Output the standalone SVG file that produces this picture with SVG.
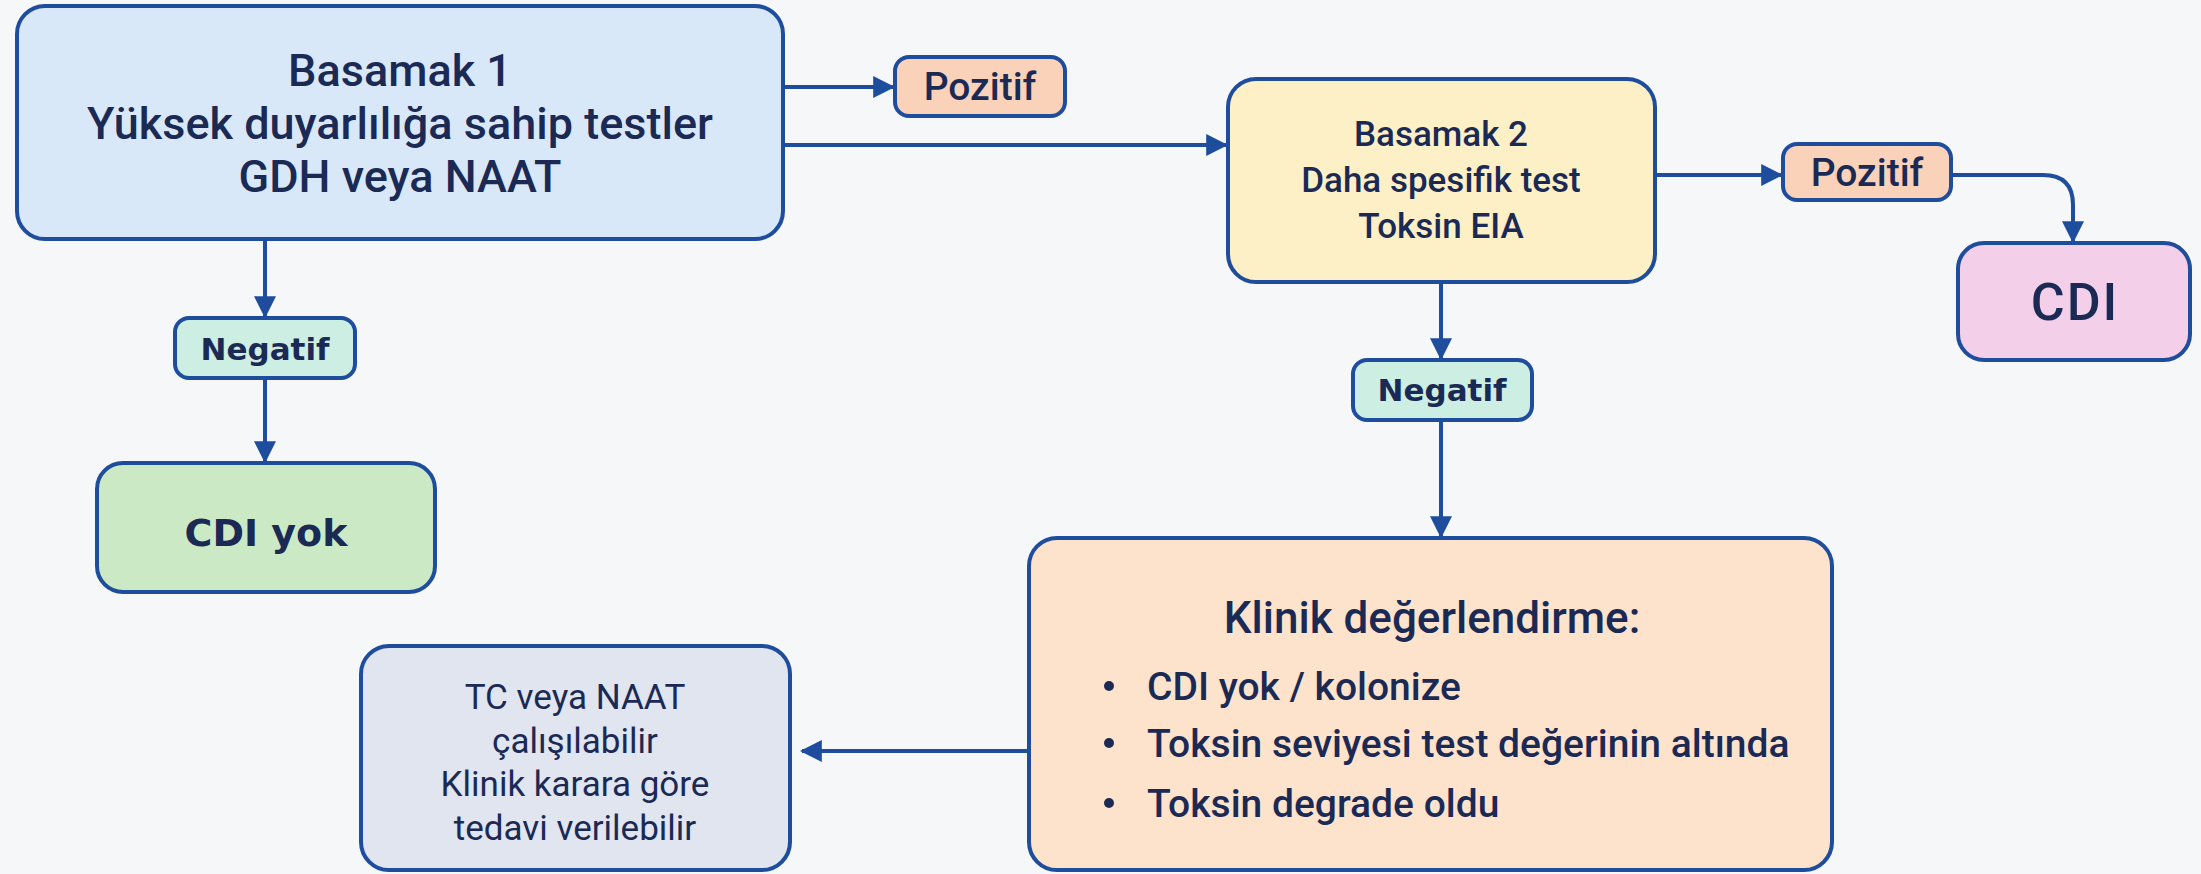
<svg xmlns="http://www.w3.org/2000/svg" width="2201" height="874" viewBox="0 0 2201 874">
<defs>
<marker id="ah" viewBox="0 0 10 10" refX="9" refY="5" markerWidth="5.5" markerHeight="5.5" markerUnits="strokeWidth" orient="auto">
<path d="M0,0 L10,5 L0,10 z" fill="#1f4d9e"/>
</marker>
<style>
.box{stroke:#1f4d9e;stroke-width:4}
.c{stroke:#1f4d9e;stroke-width:4;fill:none;marker-end:url(#ah)}
.t{font-family:Roboto,"Liberation Sans",sans-serif;font-weight:500;fill:#1b2a55;text-anchor:middle}
.r{font-weight:400}
.d{font-family:"DejaVu Sans",sans-serif;fill:#1b2a55;text-anchor:middle}
.b{font-weight:bold}
</style>
</defs>
<rect width="2201" height="874" fill="#f6f7f9"/>
<g id="connectors">
<path class="c" d="M783,87 H893"/>
<path class="c" d="M783,145 H1226"/>
<path class="c" d="M1655,175 H1781"/>
<path class="c" d="M1951,175 H2043 Q2073,175 2073,205 V241"/>
<path class="c" d="M265,239 V316"/>
<path class="c" d="M265,378 V461"/>
<path class="c" d="M1441,282 V358"/>
<path class="c" d="M1441,420 V536"/>
<path class="c" d="M1029,751 H802"/>
</g>
<g id="basamak1">
<rect class="box" x="17" y="6" width="766" height="233" rx="28" fill="#d9e8f8"/>
<text class="t" font-size="45" x="400" y="86">Basamak 1</text>
<text class="t" font-size="45" x="400" y="139">Yüksek duyarlılığa sahip testler</text>
<text class="t" font-size="45" x="400" y="192">GDH veya NAAT</text>
</g>
<g id="pozitif1">
<rect class="box" x="895" y="57" width="170" height="59" rx="14" fill="#f9d2b9"/>
<text class="t" font-size="39" x="980" y="100">Pozitif</text>
</g>
<g id="basamak2">
<rect class="box" x="1228" y="79" width="427" height="203" rx="28" fill="#fdefc6"/>
<text class="t" font-size="35" x="1441" y="146">Basamak 2</text>
<text class="t" font-size="35" x="1441" y="192">Daha spesifik test</text>
<text class="t" font-size="35" x="1441" y="238">Toksin EIA</text>
</g>
<g id="pozitif2">
<rect class="box" x="1783" y="144" width="168" height="56" rx="14" fill="#f9d2b9"/>
<text class="t" font-size="39" x="1867" y="186">Pozitif</text>
</g>
<g id="cdi">
<rect class="box" x="1958" y="243" width="232" height="117" rx="26" fill="#f4cfe9"/>
<text class="t" font-size="52" x="2075" y="320" letter-spacing="2">CDI</text>
</g>
<g id="negatif1">
<rect class="box" x="175" y="318" width="180" height="60" rx="14" fill="#cdeee3"/>
<text class="d b" font-size="31" x="265" y="360">Negatif</text>
</g>
<g id="cdiyok">
<rect class="box" x="97" y="463" width="338" height="129" rx="26" fill="#cce9c5"/>
<text class="d b" font-size="38" x="266" y="546">CDI yok</text>
</g>
<g id="negatif2">
<rect class="box" x="1353" y="360" width="179" height="60" rx="14" fill="#cdeee3"/>
<text class="d b" font-size="31" x="1442" y="401">Negatif</text>
</g>
<g id="klinik">
<rect class="box" x="1029" y="538" width="803" height="332" rx="28" fill="#fde3cc"/>
<text class="t" font-size="44" x="1432" y="633">Klinik değerlendirme:</text>
<g style="font-family:Roboto,'Liberation Sans',sans-serif;font-weight:500;fill:#1b2a55" font-size="39">
<circle cx="1109" cy="686" r="5" fill="#1b2a55"/>
<text x="1147" y="700">CDI yok / kolonize</text>
<circle cx="1109" cy="743" r="5" fill="#1b2a55"/>
<text x="1147" y="757">Toksin seviyesi test değerinin altında</text>
<circle cx="1109" cy="803" r="5" fill="#1b2a55"/>
<text x="1147" y="817">Toksin degrade oldu</text>
</g>
</g>
<g id="tc">
<rect class="box" x="361" y="646" width="429" height="224" rx="28" fill="#e0e5ef"/>
<text class="t r" font-size="35" x="575" y="709">TC veya NAAT</text>
<text class="t r" font-size="35" x="575" y="753">çalışılabilir</text>
<text class="t r" font-size="35" x="575" y="796">Klinik karara göre</text>
<text class="t r" font-size="35" x="575" y="840">tedavi verilebilir</text>
</g>
</svg>
